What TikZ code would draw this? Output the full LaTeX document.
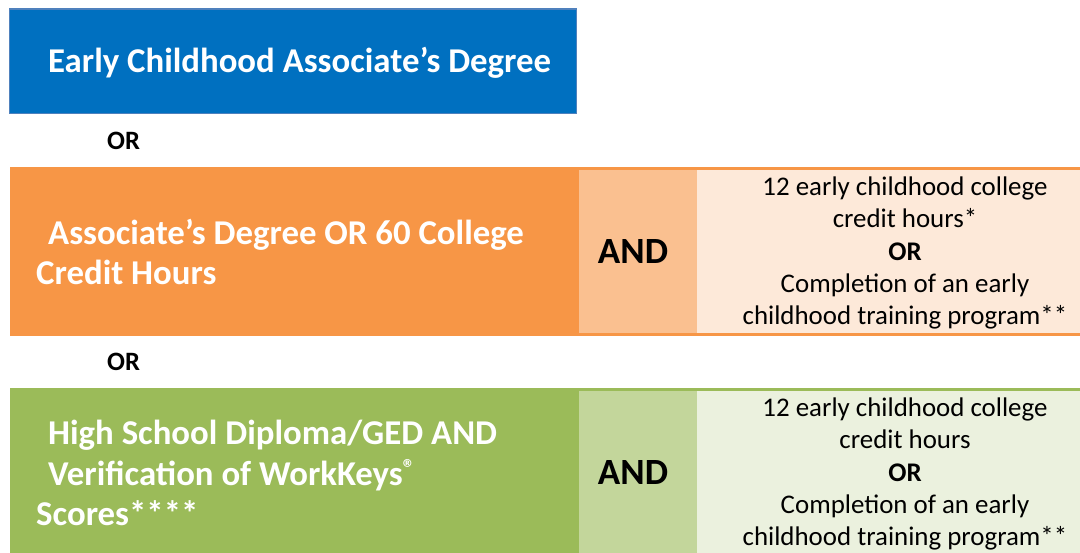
\documentclass[tikz,border=0pt]{standalone}
\usepackage{fontspec}
\setmainfont{Carlito}
\definecolor{bluefill}{HTML}{0070C0}
\definecolor{blueline}{HTML}{4F81BD}
\definecolor{orA}{HTML}{F79646}
\definecolor{orB}{HTML}{FAC090}
\definecolor{orC}{HTML}{FDE9D9}
\definecolor{grA}{HTML}{9BBB59}
\definecolor{grB}{HTML}{C3D69B}
\definecolor{grC}{HTML}{EBF1DE}
\tikzset{
  bigtxt/.style={text=white, font=\fontsize{34.8}{40.5}\selectfont\bfseries, align=left, inner sep=0pt},
  andtxt/.style={text=black, font=\fontsize{37}{40}\selectfont\bfseries, inner sep=0pt},
  smalltxt/.style={text=black, font=\fontsize{26.9}{32.3}\selectfont, align=center, inner sep=0pt},
  ortxt/.style={text=black, font=\fontsize{26.5}{28}\selectfont\bfseries, inner sep=0pt}
}
\begin{document}
\begin{tikzpicture}[x=1pt,y=-1pt]
\useasboundingbox (0,0) rectangle (1080,553);
% blue box
\path[fill=bluefill, draw=blueline, line width=1.5pt] (9.5,9) rectangle (576.5,113.5);
\node[bigtxt, anchor=base west] (t1) at (48,73) {Early Childhood Associate’s Degree};
\node[ortxt, anchor=base west] (or1) at (107,150) {OR};
% orange row
\path[fill=orA] (10,167) rectangle (1080,335.7);
\path[fill=orB] (579,170) rectangle (697,333);
\path[fill=orC] (697,170) rectangle (1080,333);
\node[bigtxt, anchor=west] (t2) at (36,252) {\hspace*{12pt}Associate’s Degree OR 60 College\\Credit Hours};
\node[andtxt, anchor=base] (and1) at (633,264) {AND};
\node[smalltxt] (r1) at (905,253) {12 early childhood college\\credit hours*\\\textbf{OR}\\Completion of an early\\childhood training program**};
\node[ortxt, anchor=base west] (or2) at (107,371) {OR};
% green row
\path[fill=grA] (10,387.7) rectangle (1080,553);
\path[fill=grB] (579,391) rectangle (697,553);
\path[fill=grC] (697,391) rectangle (1080,553);
\node[bigtxt, anchor=west] (t3) at (36,473) {\hspace*{12pt}High School Diploma/GED AND\\\hspace*{12pt}Verification of WorkKeys\textsuperscript{®}\\Scores****};
\node[andtxt, anchor=base] (and2) at (633,485) {AND};
\node[smalltxt] (r2) at (905,474) {12 early childhood college\\credit hours\\\textbf{OR}\\Completion of an early\\childhood training program**};
\end{tikzpicture}
\end{document}
